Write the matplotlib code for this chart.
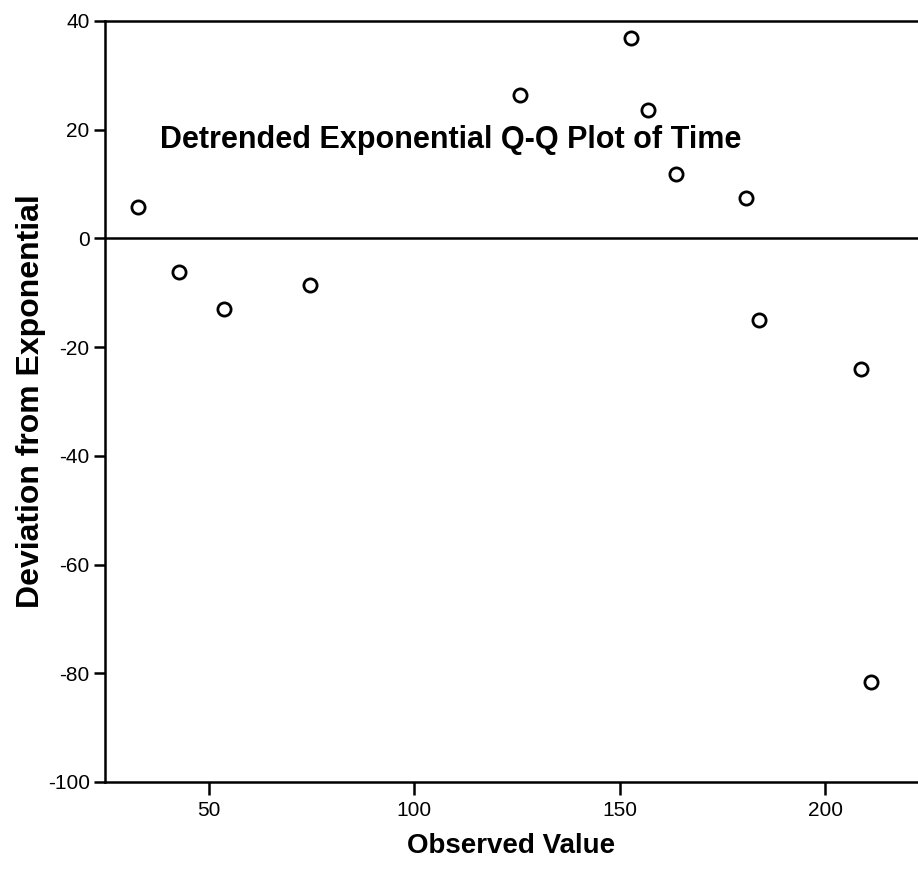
import matplotlib
matplotlib.use('Agg')
import matplotlib.pyplot as plt

plt.rcParams['font.family'] = ['Liberation Sans', 'DejaVu Sans']
plt.rcParams['axes.unicode_minus'] = False

observed = [32.9, 42.8, 53.8, 74.7, 125.8, 152.8, 156.8, 163.7, 180.7, 183.9, 208.7, 211.1]
deviation = [5.7, -6.1, -13.0, -8.5, 26.3, 36.9, 23.7, 11.9, 7.5, -15.1, -24.1, -81.6]

x_ticks = [50, 100, 150, 200]
y_ticks = [-100, -80, -60, -40, -20, 0, 20, 40]

fig = plt.figure(figsize=(9.18, 8.71), dpi=100)
ax = fig.add_axes([0.1144, 0.1022, 0.8856, 0.8737])

ax.plot(observed, deviation, 'o', mfc='white', mec='black', ms=9.5, mew=2, clip_on=False, zorder=3)
ax.axhline(0, color='black', lw=1.8)

ax.set_xlim(24.8, 222.6)
ax.set_ylim(-100, 40)
ax.set_xticks(x_ticks)
ax.set_yticks(y_ticks)
ax.tick_params(axis='x', direction='out', length=9, width=1.8, labelsize=15, pad=5)
ax.tick_params(axis='y', direction='out', length=8, width=1.8, labelsize=15, pad=3)

ax.spines['right'].set_visible(False)
for s in ['left', 'bottom', 'top']:
    ax.spines[s].set_linewidth(1.8)

ax.text(0.0677, 0.833, 'Detrended Exponential Q-Q Plot of Time', transform=ax.transAxes,
        ha='left', va='baseline', fontsize=22, fontweight='bold')

ax.set_xlabel('Observed Value', fontsize=20, fontweight='bold', labelpad=9)
ax.set_ylabel('Deviation from Exponential', fontsize=23, fontweight='bold', labelpad=1)

fig.savefig('out.png', dpi=100)
